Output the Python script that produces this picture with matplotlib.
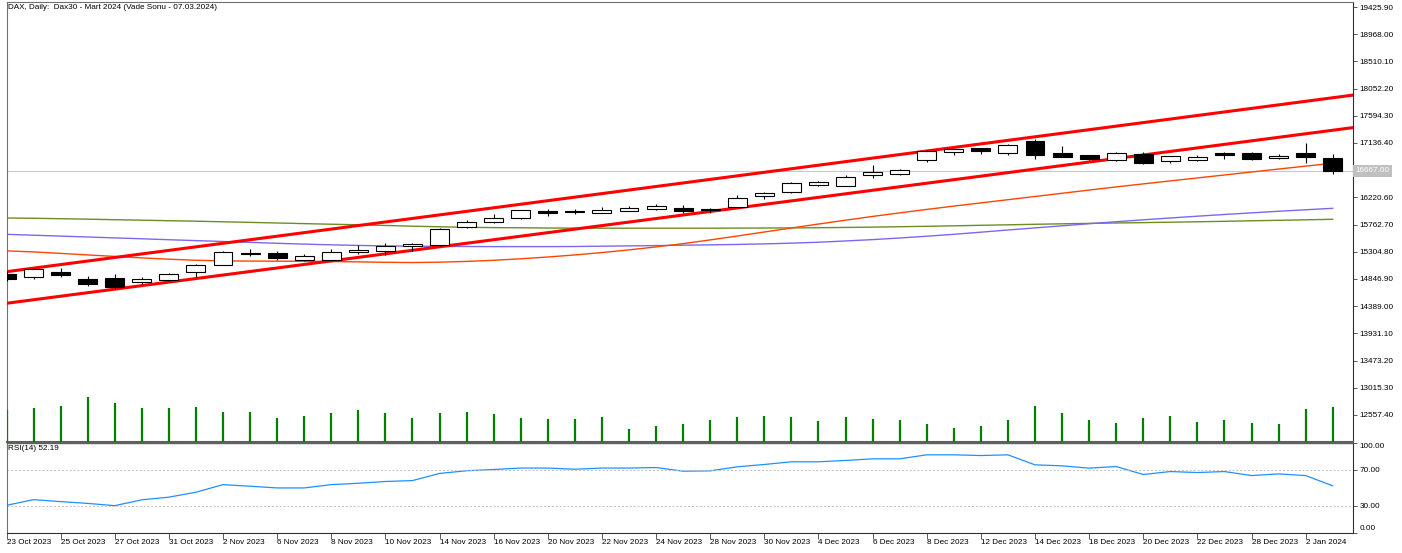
import matplotlib
matplotlib.use("Agg")
import matplotlib.pyplot as plt
import matplotlib.transforms as mtransforms
from datetime import datetime

plt.rcParams['font.family'] = ['Liberation Sans', 'DejaVu Sans']

# ---------------- data ----------------
dates = ["2023-10-23", "2023-10-24", "2023-10-25", "2023-10-26", "2023-10-27", "2023-10-30", "2023-10-31",
         "2023-11-01", "2023-11-02", "2023-11-03", "2023-11-06", "2023-11-07", "2023-11-08", "2023-11-09",
         "2023-11-10", "2023-11-13", "2023-11-14", "2023-11-15", "2023-11-16", "2023-11-17", "2023-11-20",
         "2023-11-21", "2023-11-22", "2023-11-23", "2023-11-24", "2023-11-27", "2023-11-28", "2023-11-29",
         "2023-11-30", "2023-12-01", "2023-12-04", "2023-12-05", "2023-12-06", "2023-12-07", "2023-12-08",
         "2023-12-11", "2023-12-12", "2023-12-13", "2023-12-14", "2023-12-15", "2023-12-18", "2023-12-19",
         "2023-12-20", "2023-12-21", "2023-12-22", "2023-12-27", "2023-12-28", "2023-12-29", "2024-01-02",
         "2024-01-03"]

opens = [14936, 14885, 14963, 14845, 14862, 14794, 14828, 14970, 15087, 15289, 15278, 15165, 15160, 15295,
         15323, 15401, 15412, 15716, 15805, 15879, 15990, 15985, 15963, 15997, 16030, 16041, 16030, 16064,
         16238, 16310, 16435, 16418, 16596, 16620, 16849, 16979, 17046, 16973, 17176, 16962, 16928, 16856,
         16957, 16839, 16849, 16967, 16973, 16883, 16962, 16883]
highs = [14975, 15025, 15025, 14895, 14924, 14885, 14949, 15092, 15320, 15345, 15316, 15273, 15357, 15417,
         15446, 15458, 15710, 15838, 15934, 16010, 16019, 16019, 16057, 16074, 16103, 16086, 16047, 16259,
         16310, 16482, 16495, 16591, 16760, 16704, 17012, 17037, 17054, 17122, 17197, 17085, 16936, 16987,
         16984, 16920, 16928, 16979, 16984, 16950, 17130, 16945]
lows = [14806, 14840, 14885, 14727, 14683, 14756, 14811, 14885, 15076, 15232, 15165, 15151, 15143, 15261,
        15244, 15311, 15404, 15699, 15783, 15850, 15906, 15934, 15951, 15985, 16007, 15963, 15960, 16052,
        16187, 16297, 16411, 16406, 16552, 16603, 16815, 16940, 16950, 16940, 16861, 16894, 16844, 16835,
        16788, 16805, 16827, 16861, 16849, 16872, 16805, 16620]
closes = [14840, 15008, 14907, 14767, 14710, 14840, 14936, 15076, 15306, 15266, 15205, 15227, 15306, 15340,
          15401, 15429, 15682, 15812, 15879, 16002, 15963, 15970, 16014, 16041, 16069, 15990, 16002, 16216,
          16288, 16468, 16473, 16558, 16654, 16675, 17000, 17029, 17007, 17108, 16933, 16906, 16861, 16973,
          16805, 16911, 16894, 16940, 16861, 16923, 16894, 16667]
volumes = [80000, 86000, 90000, 112000, 97000, 84000, 84000, 88000, 75000, 75000, 60000, 65000, 73000,
           79000, 73000, 60000, 73000, 75000, 71000, 60000, 57000, 58000, 63000, 33000, 39000, 46000,
           56000, 63000, 65000, 63000, 52000, 63000, 58000, 56000, 46000, 35000, 39000, 56000, 90000,
           73000, 56000, 48000, 60000, 65000, 49000, 56000, 48000, 44000, 83000, 88000]

ma_orange = [15320, 15303, 15278, 15252, 15227, 15202, 15180, 15162, 15152, 15148, 15147, 15145, 15141,
             15135, 15128, 15124, 15130, 15143, 15162, 15187, 15217, 15252, 15292, 15337, 15387, 15442,
             15505, 15570, 15638, 15705, 15772, 15837, 15900, 15960, 16018, 16074, 16128, 16182, 16236,
             16290, 16344, 16397, 16448, 16498, 16548, 16598, 16648, 16698, 16747, 16795]
ma_purple = [15599, 15584, 15569, 15554, 15539, 15524, 15508, 15493, 15478, 15463, 15448, 15434, 15422,
             15412, 15404, 15399, 15396, 15394, 15392, 15392, 15392, 15394, 15399, 15404, 15409, 15416,
             15422, 15429, 15438, 15450, 15466, 15487, 15510, 15537, 15567, 15599, 15635, 15672, 15707,
             15742, 15778, 15811, 15843, 15874, 15904, 15933, 15960, 15987, 16012, 16037]
ma_green = [15874, 15869, 15862, 15854, 15845, 15837, 15828, 15820, 15810, 15800, 15790, 15779, 15769,
            15759, 15748, 15736, 15726, 15717, 15712, 15709, 15705, 15704, 15702, 15702, 15702, 15702,
            15702, 15704, 15705, 15707, 15710, 15715, 15720, 15727, 15734, 15742, 15751, 15759, 15768,
            15776, 15783, 15790, 15796, 15803, 15810, 15818, 15827, 15835, 15843, 15852]

rsi = [30.4, 36.7, 34.5, 32.5, 30.0, 36.5, 39.5, 45.0, 53.5, 51.7, 49.8, 49.8, 53.5, 55.0, 57.0, 58.0,
       66.0, 69.0, 70.4, 72.0, 72.0, 70.7, 72.0, 72.0, 72.6, 68.5, 68.9, 73.4, 76.0, 79.0, 79.0, 80.5,
       82.3, 82.3, 86.8, 86.8, 86.0, 86.8, 75.6, 74.5, 71.9, 73.7, 64.8, 68.1, 67.0, 68.1, 63.6, 65.5,
       63.6, 52.19]

upper_channel = [("2023-10-23", 14970), ("2024-01-03", 17898)]
lower_channel = [("2023-10-23", 14438), ("2024-01-03", 17351)]
bid_price = 16667.00
price_ticks = [19425.90, 18968.00, 18510.10, 18052.20, 17594.30, 17136.40, 16220.60, 15762.70,
               15304.80, 14846.90, 14389.00, 13931.10, 13473.20, 13015.30, 12557.40]
rsi_ticks = [100, 70, 30, 0]
title = "DAX, Daily:  Dax30 - Mart 2024 (Vade Sonu - 07.03.2024)"
rsi_title = "RSI(14) 52.19"

# ---------------- figure ----------------
W, H = 1402, 553
fig = plt.figure(figsize=(W / 100, H / 100), dpi=100)
fig.patch.set_facecolor('white')
left_px, right_px = 6.5, 1353
ax = fig.add_axes([left_px / W, (H - 442) / H, (right_px - left_px) / W, 440 / H])
axr = fig.add_axes([left_px / W, (H - 532.5) / H, (right_px - left_px) / W, 89.5 / H], sharex=ax)

x = list(range(len(dates)))
FS = 5.85
frame = '#707070'

# volume (overlay scale)
vax = ax.twinx()
vax.vlines(x, 0, volumes, color='#008000', lw=1.6)
vax.set_ylim(0, 1100000)
vax.set_axis_off()

# moving averages
ax.plot(x, ma_green, color='#6B8E23', lw=1.0, zorder=2)
ax.plot(x, ma_purple, color='#7B68EE', lw=1.0, zorder=2)
ax.plot(x, ma_orange, color='#FF4500', lw=1.0, zorder=2)

# bid line
ax.axhline(bid_price, color='#C8C8C8', lw=0.8, zorder=1)

# channel lines
for pts in (upper_channel, lower_channel):
    p1 = (dates.index(pts[0][0]), pts[0][1])
    p2 = (dates.index(pts[1][0]), pts[1][1])
    ax.axline(p1, p2, color='#FF0000', lw=2.2, zorder=3)

# candles
ax.vlines(x, lows, highs, color='black', lw=0.8, zorder=4)
bottoms = [min(o, c) for o, c in zip(opens, closes)]
heights = [max(abs(c - o), 4) for o, c in zip(opens, closes)]
faces = ['white' if c >= o else 'black' for o, c in zip(opens, closes)]
ax.bar(x, heights, bottom=bottoms, width=0.70, color=faces, edgecolor='black', lw=0.8, zorder=5)

ax.set_xlim(0.06, 49.75)
ax.set_ylim(12102.7, 19510.1)
ax.yaxis.tick_right()
ax.set_yticks(price_ticks)
ax.set_yticklabels([f"{v:.2f}" for v in price_ticks])
ax.tick_params(axis='y', direction='out', length=3, width=0.6, color='#404040', labelsize=FS, pad=1.5)
ax.tick_params(axis='x', bottom=False, labelbottom=False)
for s in ['left', 'top']:
    ax.spines[s].set_color(frame)
    ax.spines[s].set_linewidth(0.8)
ax.spines['right'].set_color('#303030')
ax.spines['right'].set_linewidth(0.8)
ax.spines['bottom'].set_color('#606060')
ax.spines['bottom'].set_linewidth(1.5)

ax.text(1.5 / 1346.5, 1 - 2 / 440, title, transform=ax.transAxes, ha='left', va='top', fontsize=FS)

trans = mtransforms.blended_transform_factory(ax.transAxes, ax.transData)
ax.text(1 + 2.5 / 1346.5, bid_price, f"{bid_price:.2f}", transform=trans, ha='left', va='center',
        fontsize=FS, color='white',
        bbox=dict(boxstyle='square,pad=0.3', fc='#C0C0C0', ec='none'))

# RSI panel
axr.plot(x, rsi, color='#1E90FF', lw=0.9)
for lvl in (70, 30):
    axr.axhline(lvl, color='#C0C0C0', lw=0.7, ls=(0, (2, 2)))
axr.set_ylim(0, 100)
axr.yaxis.tick_right()
axr.set_yticks(rsi_ticks)
axr.set_yticklabels([f"{v:.2f}" for v in rsi_ticks])
for lab, v in zip(axr.get_yticklabels(), rsi_ticks):
    if v == 100:
        lab.set_va('top')
    elif v == 0:
        lab.set_va('bottom')
axr.tick_params(axis='y', direction='out', length=3, width=0.6, color='#404040', labelsize=FS, pad=1.5)
axr.text(1.5 / 1346.5, 1 - 2 / 89.5, rsi_title, transform=axr.transAxes, ha='left', va='top', fontsize=FS)

xt = x[::2]
xl = []
for i in xt:
    d = datetime.strptime(dates[i], "%Y-%m-%d")
    xl.append(f"{d.day} {d.strftime('%b %Y')}")
axr.set_xticks(xt)
axr.set_xticklabels(xl)
for lab in axr.get_xticklabels():
    lab.set_ha('left')
axr.tick_params(axis='x', direction='out', length=4, width=0.6, color='#404040', labelsize=FS, pad=1)
axr.spines['left'].set_color(frame)
axr.spines['left'].set_linewidth(0.8)
axr.spines['top'].set_color('#606060')
axr.spines['top'].set_linewidth(1.0)
axr.spines['right'].set_color('#303030')
axr.spines['right'].set_linewidth(0.8)
axr.spines['bottom'].set_color('#303030')
axr.spines['bottom'].set_linewidth(0.8)

fig.savefig("out.png", dpi=100, facecolor='white')
